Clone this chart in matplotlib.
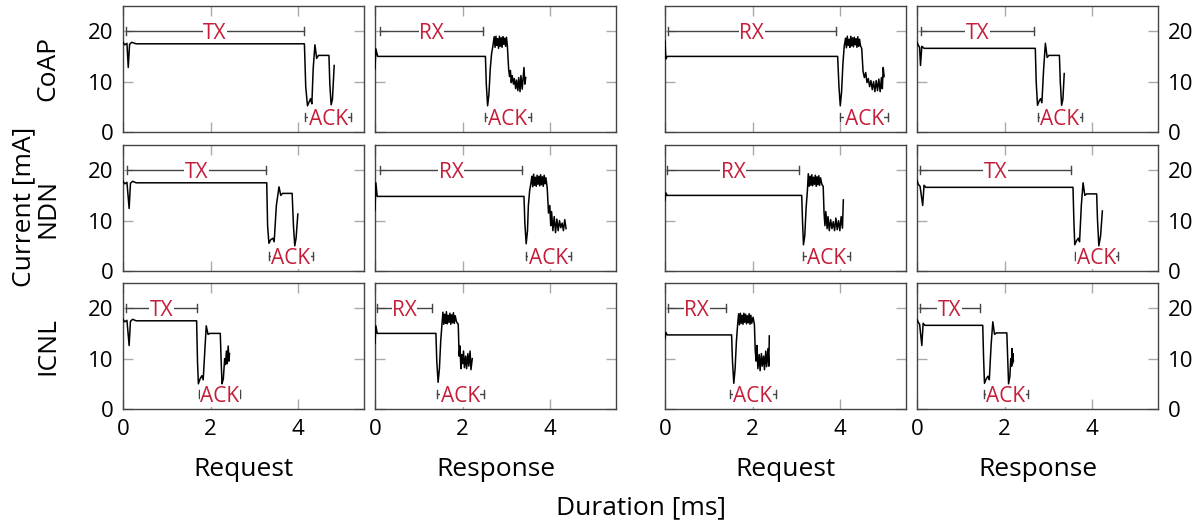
import matplotlib
matplotlib.use("Agg")
import matplotlib.pyplot as plt

plt.rcParams['font.family'] = ['Open Sans', 'DejaVu Sans']

# current traces (time in ms, current in mA)
# column 1: request / TX side
coap_req_tx = [(0, 17.8), (0.04, 17.3), (0.09, 17.6), (0.12, 12.8), (0.15, 17.4), (0.2, 17.8), (0.3, 17.5),
               (1.5, 17.5), (2.8, 17.5), (4.14, 17.5), (4.17, 9.0), (4.21, 5.2), (4.25, 6.0), (4.28, 6.6),
               (4.31, 5.6), (4.34, 12.5), (4.38, 17.3), (4.42, 14.6), (4.46, 15.2), (4.7, 15.2), (4.72, 9.5),
               (4.75, 5.4), (4.78, 6.5), (4.82, 13.2)]
ndn_req_tx = [(0, 17.8), (0.04, 17.3), (0.09, 17.6), (0.14, 12.4), (0.17, 17.4), (0.22, 17.8), (0.3, 17.5),
              (1.6, 17.5), (3.28, 17.5), (3.3, 9.0), (3.33, 5.5), (3.37, 6.2), (3.42, 6.5), (3.45, 5.8),
              (3.5, 13.0), (3.56, 16.7), (3.6, 15.0), (3.64, 15.4), (3.86, 15.4), (3.89, 9.0), (3.92, 5.0),
              (3.95, 6.5), (3.99, 11.3)]
icnl_req_tx = [(0, 17.8), (0.04, 17.3), (0.09, 17.6), (0.14, 12.6), (0.17, 17.4), (0.22, 17.8), (0.3, 17.5),
               (1.0, 17.5), (1.68, 17.5), (1.7, 9.5), (1.72, 5.0), (1.76, 6.0), (1.8, 6.6), (1.83, 5.8),
               (1.87, 12.0), (1.9, 16.5), (1.94, 14.8), (1.98, 15.0), (2.22, 15.0), (2.24, 9.5), (2.26, 5.0),
               (2.29, 6.0), (2.32, 10.0), (2.34, 8.8), (2.36, 11.5), (2.38, 9.0), (2.4, 12.5), (2.42, 9.5),
               (2.43, 11.0)]

# column 2: response / RX side
coap_resp_rx = [(0, 12.5), (0.02, 16.5), (0.06, 15.0), (2.52, 15.0), (2.54, 9.5), (2.57, 5.2), (2.6, 7.5),
                (2.63, 12.5), (2.66, 15.5), (2.69, 17.0), (2.72, 18.9), (2.74, 16.8), (2.76, 19.0), (2.78, 17.2),
                (2.8, 18.5), (2.82, 16.6), (2.84, 19.0), (2.86, 17.0), (2.88, 18.7), (2.9, 16.8), (2.92, 18.9),
                (2.94, 17.4), (2.96, 18.6), (2.98, 17.0), (3.0, 18.8), (3.02, 17.2), (3.05, 12.5), (3.07, 11.0),
                (3.09, 12.2), (3.11, 9.8), (3.13, 11.2), (3.16, 9.5), (3.18, 10.6), (3.21, 8.6), (3.23, 10.3),
                (3.26, 8.2), (3.28, 10.8), (3.31, 8.0), (3.33, 11.2), (3.36, 8.5), (3.4, 12.8), (3.42, 9.5),
                (3.44, 10.8)]
ndn_resp_rx = [(0, 12.0), (0.02, 17.5), (0.05, 14.8), (3.4, 14.8), (3.42, 9.5), (3.45, 5.4), (3.48, 8.0),
               (3.5, 13.0), (3.53, 16.0), (3.56, 17.5), (3.58, 18.8), (3.6, 16.7), (3.62, 19.2), (3.64, 17.0),
               (3.66, 18.6), (3.68, 16.8), (3.7, 19.0), (3.72, 17.2), (3.74, 18.8), (3.76, 16.9), (3.78, 19.1),
               (3.8, 17.1), (3.82, 18.7), (3.84, 16.8), (3.86, 19.0), (3.88, 17.3), (3.9, 18.5), (3.93, 16.5),
               (3.96, 11.5), (3.99, 13.0), (4.01, 9.0), (4.03, 11.8), (4.06, 8.0), (4.09, 10.8), (4.12, 7.6),
               (4.15, 10.3), (4.18, 8.0), (4.21, 10.0), (4.24, 8.6), (4.27, 9.5), (4.3, 8.0), (4.33, 10.2),
               (4.36, 8.4)]
icnl_resp_rx = [(0, 13.0), (0.02, 16.5), (0.05, 15.0), (1.39, 15.0), (1.41, 9.5), (1.44, 5.3), (1.47, 8.0),
                (1.5, 13.5), (1.53, 17.0), (1.55, 19.2), (1.57, 16.8), (1.59, 18.8), (1.61, 17.0), (1.63, 19.3),
                (1.65, 16.9), (1.67, 18.6), (1.69, 17.2), (1.71, 19.0), (1.73, 16.8), (1.75, 18.7), (1.77, 17.1),
                (1.79, 19.1), (1.81, 17.0), (1.83, 18.5), (1.86, 17.3), (1.9, 16.8), (1.92, 10.5), (1.94, 12.5),
                (1.96, 8.0), (1.98, 10.8), (2.0, 9.0), (2.02, 11.5), (2.04, 8.2), (2.07, 10.5), (2.09, 8.0),
                (2.12, 11.0), (2.14, 8.5), (2.17, 11.5), (2.19, 7.8), (2.22, 10.0)]

# column 3: request / RX side
coap_req_rx = [(0, 18.0), (0.02, 14.5), (0.05, 15.0), (3.94, 15.0), (3.97, 9.0), (4.0, 5.2), (4.03, 8.0),
               (4.06, 13.5), (4.09, 17.0), (4.12, 18.6), (4.14, 16.7), (4.16, 19.0), (4.18, 17.2), (4.2, 18.4),
               (4.22, 16.8), (4.24, 19.0), (4.26, 17.1), (4.28, 18.7), (4.3, 16.9), (4.32, 18.8), (4.34, 17.3),
               (4.36, 18.5), (4.38, 16.8), (4.4, 18.9), (4.42, 17.0), (4.44, 18.4), (4.46, 17.2), (4.49, 16.5),
               (4.52, 12.0), (4.55, 10.8), (4.58, 11.8), (4.61, 9.8), (4.64, 10.6), (4.67, 9.0), (4.7, 10.2),
               (4.73, 8.4), (4.76, 10.0), (4.79, 8.0), (4.82, 10.2), (4.85, 8.2), (4.88, 10.5), (4.91, 8.0),
               (4.94, 10.8), (4.96, 8.6), (4.98, 12.8), (5.0, 11.0)]
ndn_req_rx = [(0, 14.0), (0.02, 15.5), (0.05, 15.0), (3.12, 15.0), (3.14, 9.5), (3.16, 5.2), (3.19, 7.0),
              (3.22, 12.5), (3.25, 16.0), (3.27, 19.3), (3.29, 16.8), (3.31, 18.8), (3.33, 17.0), (3.35, 19.1),
              (3.37, 16.9), (3.39, 18.6), (3.41, 17.2), (3.43, 19.0), (3.45, 16.8), (3.47, 18.7), (3.49, 17.1),
              (3.51, 18.9), (3.53, 17.0), (3.55, 18.5), (3.58, 17.2), (3.61, 16.8), (3.63, 11.5), (3.65, 9.0),
              (3.67, 11.8), (3.7, 8.4), (3.72, 10.8), (3.75, 8.0), (3.78, 10.2), (3.81, 8.4), (3.84, 9.8),
              (3.87, 8.0), (3.9, 10.5), (3.93, 8.2), (3.96, 10.0), (3.99, 8.0), (4.02, 10.8), (4.05, 8.5),
              (4.07, 14.1)]
icnl_req_rx = [(0, 14.0), (0.02, 15.2), (0.05, 14.7), (1.52, 14.7), (1.54, 9.5), (1.57, 5.1), (1.6, 8.0),
               (1.63, 13.5), (1.66, 17.0), (1.68, 18.9), (1.7, 16.7), (1.72, 19.0), (1.74, 17.0), (1.76, 18.6),
               (1.78, 16.8), (1.8, 19.0), (1.82, 17.2), (1.84, 18.8), (1.86, 16.9), (1.88, 18.5), (1.9, 17.1),
               (1.92, 18.9), (1.94, 16.8), (1.96, 18.6), (1.98, 17.0), (2.01, 18.2), (2.04, 16.8), (2.06, 11.5),
               (2.08, 9.5), (2.1, 12.6), (2.12, 8.0), (2.15, 10.8), (2.17, 7.6), (2.2, 11.0), (2.22, 8.5),
               (2.25, 10.5), (2.27, 7.8), (2.3, 11.5), (2.32, 8.4), (2.35, 12.0), (2.37, 8.5), (2.38, 14.5)]

# column 4: response / TX side
coap_resp_tx = [(0, 17.8), (0.03, 17.2), (0.06, 16.8), (0.08, 13.2), (0.11, 17.0), (0.16, 16.6), (1.4, 16.6),
                (2.7, 16.6), (2.72, 10.0), (2.75, 5.3), (2.79, 6.2), (2.82, 6.6), (2.85, 5.8), (2.89, 12.5),
                (2.93, 17.6), (2.97, 14.8), (3.01, 15.2), (3.25, 15.2), (3.27, 10.0), (3.3, 5.3), (3.33, 6.5),
                (3.36, 11.6)]
ndn_resp_tx = [(0, 18.0), (0.03, 17.2), (0.07, 16.8), (0.13, 13.0), (0.16, 17.0), (0.2, 16.6), (1.8, 16.6),
               (3.56, 16.6), (3.58, 10.0), (3.6, 5.2), (3.64, 6.0), (3.68, 6.5), (3.71, 5.8), (3.75, 13.0),
               (3.79, 17.5), (3.83, 15.0), (3.87, 15.3), (4.1, 15.3), (4.12, 10.0), (4.15, 5.0), (4.19, 7.0),
               (4.23, 11.9)]
icnl_resp_tx = [(0, 17.8), (0.03, 17.2), (0.06, 16.8), (0.11, 12.6), (0.14, 17.0), (0.18, 16.6), (0.8, 16.6),
                (1.5, 16.6), (1.52, 10.0), (1.54, 5.1), (1.58, 6.0), (1.62, 6.5), (1.65, 5.8), (1.69, 12.5),
                (1.73, 17.3), (1.77, 14.8), (1.81, 15.1), (2.05, 15.1), (2.07, 10.0), (2.09, 5.0), (2.12, 6.5),
                (2.14, 10.0), (2.16, 8.5), (2.17, 12.0), (2.18, 9.0), (2.19, 11.0), (2.2, 9.5)]

# phase markers: (label, start, end)
coap_spans = [[('TX', 0.07, 4.12), ('ACK', 4.16, 5.2)],
              [('RX', 0.11, 2.46), ('ACK', 2.5, 3.57)],
              [('RX', 0.06, 3.9), ('ACK', 4.0, 5.1)],
              [('TX', 0.08, 2.68), ('ACK', 2.75, 3.76)]]
ndn_spans = [[('TX', 0.08, 3.27), ('ACK', 3.34, 4.33)],
             [('RX', 0.12, 3.36), ('ACK', 3.44, 4.47)],
             [('RX', 0.05, 3.06), ('ACK', 3.16, 4.22)],
             [('TX', 0.06, 3.52), ('ACK', 3.6, 4.58)]]
icnl_spans = [[('TX', 0.07, 1.68), ('ACK', 1.73, 2.68)],
              [('RX', 0.04, 1.3), ('ACK', 1.41, 2.48)],
              [('RX', 0.06, 1.39), ('ACK', 1.48, 2.53)],
              [('TX', 0.06, 1.43), ('ACK', 1.52, 2.53)]]

protocols = ['CoAP', 'NDN', 'ICNL']
col_titles = ['Request', 'Response', 'Request', 'Response']
traces = [[coap_req_tx, coap_resp_rx, coap_req_rx, coap_resp_tx],
          [ndn_req_tx, ndn_resp_rx, ndn_req_rx, ndn_resp_tx],
          [icnl_req_tx, icnl_resp_rx, icnl_req_rx, icnl_resp_tx]]
spans = [coap_spans, ndn_spans, icnl_spans]

RED = '#c41e3a'
W, H = 1203, 523
lefts = [123, 375, 665, 917]
tops = [6, 145, 283]
aw, ah = 241, 126

fig = plt.figure(figsize=(W / 100, H / 100), dpi=100)


def draw_span(ax, label, x0, x1):
    y = 3 if label == 'ACK' else 20
    ax.plot([x0, x1], [y, y], color='#444444', lw=1)
    ax.plot([x0, x0], [y - 0.8, y + 0.8], color='#444444', lw=1)
    ax.plot([x1, x1], [y - 0.8, y + 0.8], color='#444444', lw=1)
    ax.text((x0 + x1) / 2, y, label, color=RED, fontsize=15, ha='center', va='center_baseline',
            bbox=dict(fc='white', ec='none', pad=0.3))


for r in range(3):
    for c in range(4):
        ax = fig.add_axes([lefts[c] / W, 1 - (tops[r] + ah) / H, aw / W, ah / H])
        t, i = zip(*traces[r][c])
        ax.plot(t, i, color='black', lw=1.1, zorder=4)
        for lab, x0, x1 in spans[r][c]:
            draw_span(ax, lab, x0, x1)
        ax.set_xlim(0, 5.5)
        ax.set_ylim(0, 25)
        ax.set_xticks([0, 2, 4])
        ax.set_yticks([0, 10, 20])
        ax.tick_params(direction='in', length=7, width=1, color='#aaaaaa', top=True, right=True,
                       labelleft=(c == 0), labelright=(c == 3), labelbottom=(r == 2),
                       labelsize=16, pad=7)
        for s in ax.spines.values():
            s.set_color('#444444')
            s.set_linewidth(1)
        if r == 2:
            fig.text((lefts[c] + aw / 2) / W, 1 - 470 / H, col_titles[c], ha='center', va='center',
                     fontsize=19)
    fig.text(48 / W, 1 - (tops[r] + ah / 2) / H, protocols[r], rotation=90, ha='center', va='center',
             fontsize=19)

fig.text(24 / W, 1 - 207 / H, 'Current [mA]', rotation=90, ha='center', va='center', fontsize=19)
fig.text(641 / W, 1 - 508 / H, 'Duration [ms]', ha='center', va='center', fontsize=19)

fig.savefig('out.png', dpi=100)
